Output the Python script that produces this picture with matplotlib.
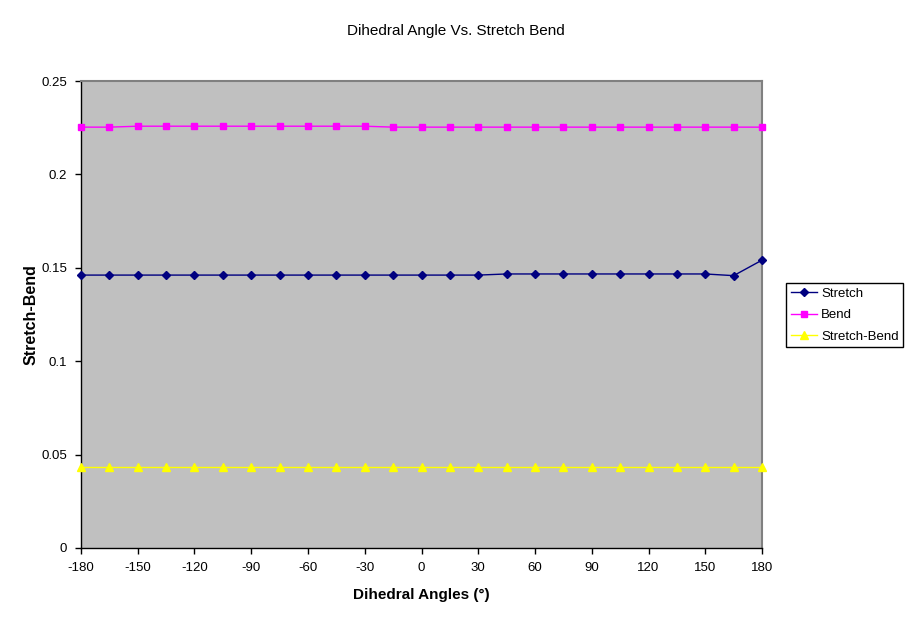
import matplotlib
matplotlib.use("Agg")
import matplotlib.pyplot as plt

plt.rcParams['font.family'] = ['Liberation Sans', 'DejaVu Sans']

angles = list(range(-180, 181, 15))
stretch = [0.1461]*15 + [0.1467]*8 + [0.1458, 0.1541]
bend = [0.2253, 0.2253] + [0.2258]*9 + [0.2253]*14
stretch_bend = [0.0435]*25

xticks = list(range(-180, 181, 30))
yticks = [0, 0.05, 0.1, 0.15, 0.2, 0.25]
ytick_labels = ["0", "0.05", "0.1", "0.15", "0.2", "0.25"]

fig = plt.figure(figsize=(9.11, 6.23), dpi=100)
ax = fig.add_axes([81/911, 1-548/623, (762-81)/911, (548-81)/623])
ax.set_facecolor('#C0C0C0')

ax.plot(angles, stretch, color='#000080', marker='D', markersize=4, lw=1, label='Stretch', clip_on=False, zorder=3)
ax.plot(angles, bend, color='#FF00FF', marker='s', markersize=5, lw=1, label='Bend', clip_on=False, zorder=3)
ax.plot(angles, stretch_bend, color='#FFFF00', marker='^', markersize=6, lw=1, label='Stretch-Bend', clip_on=False, zorder=3)

ax.set_xlim(-180, 180)
ax.set_ylim(0, 0.25)
ax.set_xticks(xticks)
ax.set_xticklabels([str(v) for v in xticks])
ax.set_yticks(yticks)
ax.set_yticklabels(ytick_labels)
ax.tick_params(direction='out', length=4, width=1, labelsize=9.5, colors='black', pad=6)

for s in ['left', 'bottom']:
    ax.spines[s].set_color('black')
    ax.spines[s].set_linewidth(1)
for s in ['top', 'right']:
    ax.spines[s].set_color('#808080')
    ax.spines[s].set_linewidth(1.5)

ax.set_xlabel('Dihedral Angles (°)', fontsize=11, fontweight='bold', labelpad=10)
ax.set_ylabel('Stretch-Bend', fontsize=11.5, fontweight='bold', labelpad=2)
fig.text(0.5, 1-31/623, 'Dihedral Angle Vs. Stretch Bend', ha='center', va='center', fontsize=11)

leg = ax.legend(loc='center left', bbox_to_anchor=(786/911, 1-315/623), bbox_transform=fig.transFigure,
                frameon=True, fancybox=False, edgecolor='black', framealpha=1, fontsize=9.5,
                borderpad=0.35, labelspacing=0.7, handlelength=2.0, handletextpad=0.3, borderaxespad=0)
leg.get_frame().set_linewidth(1)

fig.savefig('out.png', dpi=100)
